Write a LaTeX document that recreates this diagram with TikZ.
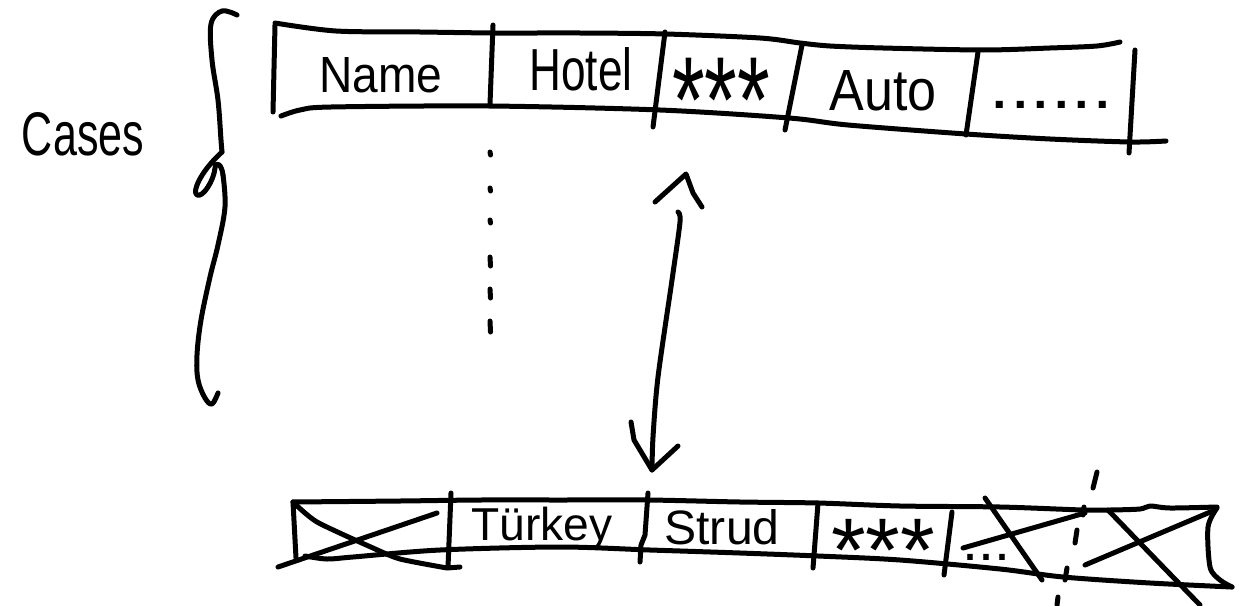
\documentclass[tikz,border=0pt]{standalone}
\usepackage{fontspec}
\setmainfont{Liberation Sans}
\usepackage{graphicx}
\newcommand\hwbox[3]{\resizebox{#1}{#2}{#3}}
\newcommand\hwdots[1]{\raisebox{0pt}[.105em][0pt]{#1}}
\newcommand\hwstars[1]{\raisebox{-.35em}[.31em][0pt]{#1}}
\begin{document}
\begin{tikzpicture}[x=1pt,y=-1pt,
  ink/.style={line width=5pt,line cap=round,line join=round},
  hw/.style={inner sep=0pt,outer sep=0pt,anchor=base,font=\fontsize{40}{44}\selectfont}]
\useasboundingbox (0,0) rectangle (1241,605);

% ---- label and brace
\node[hw] (cases) at (83,155) {\hwbox{122pt}{43pt}{Cases}};
\draw[ink] plot[smooth,tension=0.6] coordinates {(237,15) (222,11) (211,24) (212,60) (218,100) (221,140) (222,152)};
\draw[ink] (222,152) .. controls (200,172) and (192,192) .. (197,195) .. controls (203,198) and (214,180) .. (215,168) .. controls (216,160) and (222,165) .. (223,175);
\draw[ink] plot[smooth,tension=0.6] coordinates {(223,175) (225,207) (218,245) (210,277) (201,320) (197,355) (198,380) (205,398) (212,404) (218,393)};

% ---- top table
\draw[ink] plot[smooth,tension=0.5] coordinates {(275,23) (336,31) (420,32) (495,33) (580,33) (666,34) (760,38) (800,43) (830,46) (883,48) (983,50) (1050,48) (1097,46) (1120,42)};
\draw[ink] plot[smooth,tension=0.5] coordinates {(281,116) (300,110) (331,107) (489,106) (660,110) (789,118) (848,125) (966,134) (1050,139) (1130,142) (1166,141)};
\draw[ink] (275,25) -- (273,112);
\draw[ink] (493,25) -- (490,104);
\draw[ink] (665,32) -- (653,127);
\draw[ink] (802,45) -- (785,130);
\draw[ink] (978,52) -- (966,135);
\draw[ink] (1135,50) -- (1129,153);

\node[hw] (name)  at (381,92)  {\hwbox{123pt}{35pt}{Name}};
\node[hw] (hotel) at (581,90)  {\hwbox{103pt}{43pt}{Hotel}};
\node[hw] (stars) at (721,100) {\hwbox{98pt}{38pt}{\hwstars{***}}};
\node[hw] (auto)  at (883,110) {\hwbox{107pt}{40pt}{Auto}};
\node[hw] (more)  at (1051,108) {\hwbox{123pt}{7pt}{\hwdots{......}}};

% ---- dotted continuation below "Name"
\foreach \a/\b in {152/155,188/191,220/223,257/266,289/298,321/332}
  \draw[ink] (490,\a) -- (490.5,\b);

% ---- double arrow
\coordinate (atop) at (678,212);
\coordinate (abot) at (652,470);
\draw[ink] plot[smooth,tension=0.5] coordinates {(atop) (680,222) (672,280) (658,377) (653,437) (abot)};
\draw[ink] (655,202) -- (686,174) -- (693,193) -- (702,207);
\draw[ink] (631,422) -- (634,440) -- (abot) -- (678,446);

% ---- bottom table
\draw[ink] plot[smooth,tension=0.5] coordinates {(293,502) (400,501) (480,500) (560,500) (648,500) (740,502) (818,503) (900,506) (1000,507) (1083,510) (1110,510) (1140,509) (1150,506) (1170,508) (1217,507)};
\draw[ink] plot[smooth,tension=0.5] coordinates {(305,556) (327,559) (353,557) (440,550) (560,547) (650,550) (740,553) (818,556) (900,560) (1000,569) (1063,577) (1150,583) (1232,587)};
\draw[ink] (293,502) -- (296,558);
\draw[ink] (451,493) -- (448,567);
\draw[ink] (648,493) -- (645,535) -- (641,545) -- (640,562);
\draw[ink] (818,503) -- (813,568);
\draw[ink] (952,512) -- (944,575);
\draw[ink] plot[smooth,tension=0.5] coordinates {(1217,508) (1208,527) (1210,567) (1220,580) (1232,587)};

% crossed first cell
\draw[ink] plot[smooth,tension=0.4] coordinates {(293,502) (317,522) (373,548) (400,559) (447,568)} -- (460,567);
\draw[ink] (278,567) -- (437,513);

\node[hw] (turkey) at (542,540) {\hwbox{141pt}{!}{Türkey}};
\node[hw] (strud)  at (722,544) {\hwbox{115pt}{35pt}{Strud}};
\node[hw] (stars2) at (883,550) {\hwbox{104pt}{28pt}{\hwstars{***}}};
\node[hw] (etc)    at (986,560) {\hwbox{48pt}{6pt}{\hwdots{...}}};

% crossed end region
\draw[ink] (985,498) -- (1042,580);
\draw[ink] (963,548) -- (1085,513);
\draw[ink] (1108,510) -- (1200,605);
\draw[ink] (1085,565) -- (1215,510);
% dashed cut line
\draw[ink] (1097,472) -- (1093,488);
\draw[ink] (1084,507) -- (1083,515);
\draw[ink] (1077,530) -- (1075,543);
\draw[ink] (1067,568) -- (1065,580);
\draw[ink] (1058,597) -- (1057,605);
\end{tikzpicture}
\end{document}
